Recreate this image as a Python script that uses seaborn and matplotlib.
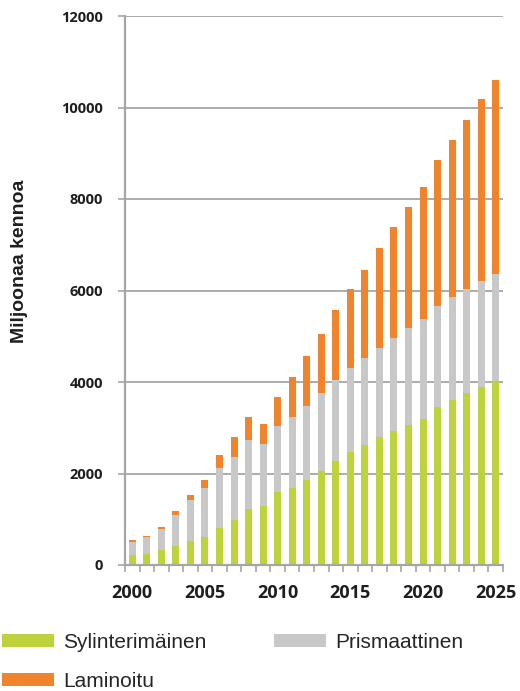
import numpy as np
import pandas as pd
import matplotlib
matplotlib.use("Agg")
import matplotlib.pyplot as plt
import seaborn as sns
from matplotlib.patches import Patch

years = list(range(2000, 2026))
sylinterimainen = [220, 235, 320, 415, 520, 605, 800, 980, 1225, 1285, 1585, 1680, 1860,
                   2060, 2280, 2460, 2630, 2790, 2935, 3065, 3200, 3460, 3605, 3750, 3890, 4015]
prismaattinen = [285, 370, 460, 685, 905, 1075, 1310, 1385, 1510, 1360, 1460, 1550, 1620,
                 1700, 1770, 1840, 1890, 1960, 2030, 2105, 2170, 2205, 2250, 2285, 2320, 2355]
laminoitu = [35, 30, 60, 75, 115, 175, 285, 425, 495, 435, 620, 875, 1085,
             1285, 1515, 1740, 1935, 2185, 2415, 2660, 2900, 3190, 3435, 3695, 3965, 4235]
series_names = ["Sylinterimäinen", "Prismaattinen", "Laminoitu"]
y_label = "Miljoonaa kennoa"

GREEN = "#bdd23c"
GRAY = "#c8c8c8"
ORANGE = "#f0842c"
AXIS = "#a6a6a6"
TEXT = "#1e1e1e"

sns.set_theme(style="white")
plt.rcParams["font.family"] = ["DejaVu Sans"]

df = pd.DataFrame({
    "year": [str(y) for y in years],
    "syl": sylinterimainen,
    "pris": prismaattinen,
    "lam": laminoitu,
})
df["top_pris"] = df["syl"] + df["pris"]
df["top_lam"] = df["top_pris"] + df["lam"]

fig = plt.figure(figsize=(5.2, 6.91), dpi=100)
ax = fig.add_axes([125 / 520, 1 - 565 / 691, (503 - 125) / 520, (565 - 16) / 691])

common = dict(data=df, x="year", width=0.48, saturation=1, errorbar=None, ax=ax, linewidth=0)
sns.barplot(y="top_lam", color=ORANGE, **common)
sns.barplot(y="top_pris", color=GRAY, **common)
sns.barplot(y="syl", color=GREEN, **common)

ax.set_xlim(-0.5, 25.5)
ax.set_ylim(0, 12000)
ax.set_yticks(np.arange(0, 12001, 2000))
ax.yaxis.grid(True, color=AXIS, lw=1.3)
ax.xaxis.grid(False)
ax.set_axisbelow(True)

for s in ["top", "right"]:
    ax.spines[s].set_visible(False)
for s in ["left", "bottom"]:
    ax.spines[s].set_color(AXIS)
    ax.spines[s].set_linewidth(1.6)

major_pos = [i for i, y in enumerate(years) if y % 5 == 0]
ax.set_xticks(major_pos)
ax.set_xticklabels([str(years[i]) for i in major_pos])
ax.set_xticks(np.arange(-0.5, len(years), 1.0), minor=True)
ax.tick_params(axis="x", which="major", length=0, pad=14, labelsize=13, labelcolor=TEXT)
ax.tick_params(axis="x", which="minor", length=5, width=1.2, color=AXIS, direction="out", bottom=True)
ax.tick_params(axis="y", which="major", length=5, width=1.2, color=AXIS, direction="out",
               left=True, pad=11, labelsize=10.5, labelcolor=TEXT)
for lab in ax.get_xticklabels() + ax.get_yticklabels():
    lab.set_fontweight("bold")
    lab.set_family(["Open Sans", "DejaVu Sans"])

ax.set_xlabel("")
ax.set_ylabel("")
fig.text(20 / 520, 1 - 261 / 691, y_label, rotation=90, ha="center", va="center",
         fontsize=14, fontweight="bold", family=["Liberation Sans", "DejaVu Sans"], color=TEXT)

handles = [Patch(facecolor=GREEN, edgecolor="none"),
           Patch(facecolor=ORANGE, edgecolor="none"),
           Patch(facecolor=GRAY, edgecolor="none")]
labels = [series_names[0], series_names[2], series_names[1]]
fig.legend(handles, labels, loc="upper left", bbox_to_anchor=(2 / 520, 1 - 633 / 691),
           ncol=2, frameon=False, borderpad=0, borderaxespad=0,
           handlelength=2.5, handleheight=0.62, handletextpad=0.45,
           columnspacing=3.2, labelspacing=0.95,
           prop={"family": ["Liberation Sans", "DejaVu Sans"], "size": 15})

fig.savefig("out.png", dpi=100)
